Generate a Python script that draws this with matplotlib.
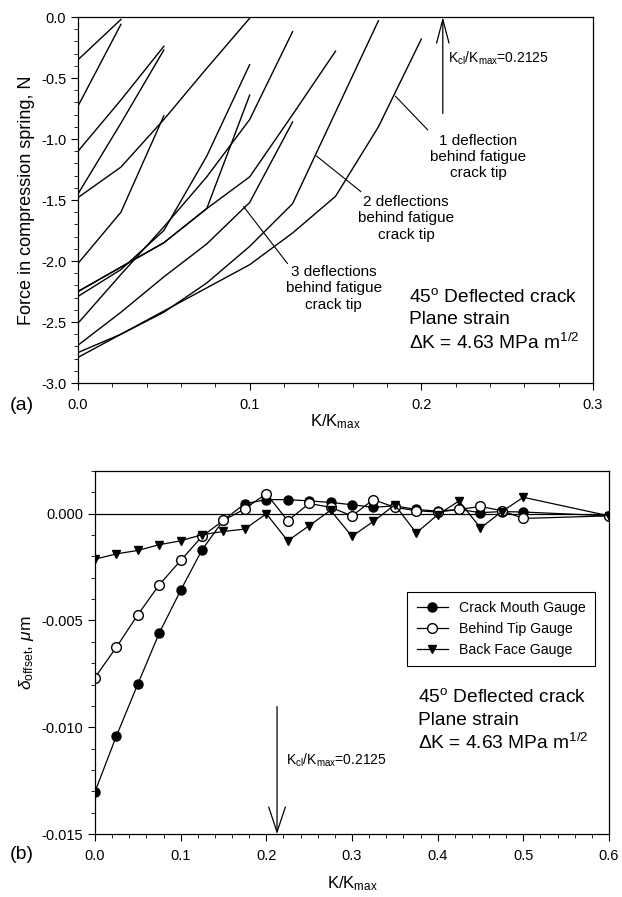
import numpy as np
import matplotlib
matplotlib.use('Agg')
import matplotlib.pyplot as plt
from matplotlib.ticker import MultipleLocator, FormatStrFormatter

plt.rcParams['font.family'] = ['Liberation Sans', 'DejaVu Sans']
plt.rcParams['mathtext.fontset'] = 'custom'
plt.rcParams['mathtext.rm'] = 'Liberation Sans'
plt.rcParams['mathtext.it'] = 'Liberation Sans:italic'
plt.rcParams['mathtext.bf'] = 'Liberation Sans:bold'
plt.rcParams['axes.unicode_minus'] = False

#%% Data

# (a) spring force vs K/Kmax, each curve sampled every 0.025 from K/Kmax = 0
k_steps = [0.0, 0.025, 0.05, 0.075, 0.1, 0.125, 0.15, 0.175, 0.2]
force_a = [-0.35, -0.02]
force_b = [-0.73, -0.06]
force_c = [-1.10, -0.68, -0.24]
force_d = [-1.45, -0.87, -0.27]
force_e = [-2.02, -1.60, -0.81]
force_f = [-1.48, -1.23, -0.84, -0.42, -0.01]
force_g = [-2.29, -2.07, -1.75, -1.14, -0.39]
force_h = [-2.25, -2.05, -1.85, -1.57, -0.64]
force_i = [-2.51, -2.11, -1.72, -1.31, -0.84, -0.12]
force_j = [-2.69, -2.42, -2.13, -1.86, -1.52, -0.86]
force_k = [-2.25, -2.05, -1.85, -1.57, -1.31, -0.80, -0.28]
force_l = [-2.75, -2.60, -2.42, -2.18, -1.88, -1.53, -0.78, -0.03]
force_m = [-2.79, -2.60, -2.41, -2.22, -2.03, -1.77, -1.47, -0.90, -0.18]
spring_forces = [force_a, force_b, force_c, force_d, force_e, force_f, force_g,
                 force_h, force_i, force_j, force_k, force_l, force_m]

# (b) offset displacement vs K/Kmax
k_gauge = [0.0, 0.025, 0.05, 0.075, 0.1, 0.125, 0.15, 0.175, 0.2, 0.225, 0.25,
           0.275, 0.3, 0.325, 0.35, 0.375, 0.4, 0.425, 0.45, 0.475, 0.5, 0.6]
crack_mouth = [-0.01302, -0.01041, -0.00798, -0.00559, -0.00359, -0.00169, -0.00030,
               0.00047, 0.00066, 0.00066, 0.00060, 0.00053, 0.00042, 0.00030, 0.00037,
               0.00020, 0.00012, 0.00020, 0.00005, 0.00010, 0.00008, -0.00010]
behind_tip = [-0.00767, -0.00625, -0.00473, -0.00333, -0.00219, -0.00106, -0.00031,
              0.00023, 0.00094, -0.00033, 0.00048, 0.00030, -0.00010, 0.00066, 0.00030,
              0.00014, 0.00008, 0.00020, 0.00034, 0.00014, -0.00022, -0.00010]
back_face = [-0.00213, -0.00188, -0.00172, -0.00145, -0.00127, -0.00098, -0.00083,
             -0.00072, 0.00000, -0.00127, -0.00056, 0.00016, -0.00106, -0.00036, 0.00042,
             -0.00090, -0.00005, 0.00060, -0.00067, 0.00010, 0.00077, -0.00010]

k_cl = 0.2125
case_lines = ['45$^{\\mathrm{o}}$ Deflected crack', 'Plane strain',
              r'$\Delta$K = 4.63 MPa m$^{\mathrm{1/2}}$']

#%% Figure

fig = plt.figure(figsize=(6.22, 8.97), dpi=100)
ax1 = fig.add_axes([0.1254, 0.573, 0.828, 0.408])
ax2 = fig.add_axes([0.1527, 0.0702, 0.8264, 0.4047])

def style_axis(ax):
    ax.tick_params(which='both', direction='out', top=False, right=False, labelsize=10.5)
    ax.tick_params(which='major', length=5, width=0.8)
    ax.tick_params(which='minor', length=3, width=0.6)
    ax.tick_params(axis='x', which='major', pad=6)
    for s in ax.spines.values():
        s.set_linewidth(0.9)

# Panel (a)
for f in spring_forces:
    ax1.plot(k_steps[:len(f)], f, color='black', lw=1.0)

ax1.set_xlim(0, 0.3)
ax1.set_ylim(-3.0, 0.0)
ax1.xaxis.set_major_locator(MultipleLocator(0.1))
ax1.xaxis.set_minor_locator(MultipleLocator(0.02))
ax1.yaxis.set_major_locator(MultipleLocator(0.5))
ax1.yaxis.set_minor_locator(MultipleLocator(0.1))
ax1.xaxis.set_major_formatter(FormatStrFormatter('%.1f'))
ax1.yaxis.set_major_formatter(FormatStrFormatter('%.1f'))
style_axis(ax1)
ax1.set_xlabel(r'K/K$_{\mathrm{max}}$', fontsize=12, labelpad=0)
ax1.set_ylabel('Force in compression spring, N', fontsize=13, labelpad=4)

ax1.annotate('', xy=(k_cl, 0.0), xytext=(k_cl, -0.79),
             arrowprops=dict(arrowstyle='->,head_length=1.7,head_width=0.45',
                             color='black', lw=0.9, shrinkA=0, shrinkB=0))
ax1.text(k_cl + 0.003, -0.34, r'K$_{\mathrm{cl}}$/K$_{\mathrm{max}}$=0.2125', fontsize=10,
         va='center', ha='left')

# leader lines to the curves
ax1.plot([0.185, 0.2037], [-0.65, -0.925], color='black', lw=0.8)
ax1.text(0.233, -1.145, '1 deflection\nbehind fatigue\ncrack tip', fontsize=11,
         ha='center', va='center')
ax1.plot([0.139, 0.1647], [-1.14, -1.43], color='black', lw=0.8)
ax1.text(0.191, -1.65, '2 deflections\nbehind fatigue\ncrack tip', fontsize=11,
         ha='center', va='center')
ax1.plot([0.0965, 0.122], [-1.555, -2.02], color='black', lw=0.8)
ax1.text(0.149, -2.225, '3 deflections\nbehind fatigue\ncrack tip', fontsize=11,
         ha='center', va='center')

for txt, yb in zip(case_lines, [-2.337, -2.516, -2.72]):
    ax1.text(0.193, yb, txt, fontsize=13.8, ha='left', va='baseline')
fig.text(0.035, 0.548, '(a)', fontsize=14, ha='center', va='center')

# Panel (b)
ax2.axhline(0.0, color='black', lw=0.9)
ax2.plot(k_gauge, crack_mouth, color='black', lw=0.9, marker='o', ms=6.5,
         mfc='black', mec='black', label='Crack Mouth Gauge')
ax2.plot(k_gauge, behind_tip, color='black', lw=0.9, marker='o', ms=7,
         mfc='white', mec='black', label='Behind Tip Gauge')
ax2.plot(k_gauge, back_face, color='black', lw=0.9, marker='v', ms=6,
         mfc='black', mec='black', label='Back Face Gauge')

ax2.set_xlim(0, 0.6)
ax2.set_ylim(-0.015, 0.002)
ax2.xaxis.set_major_locator(MultipleLocator(0.1))
ax2.xaxis.set_minor_locator(MultipleLocator(0.02))
ax2.yaxis.set_major_locator(MultipleLocator(0.005))
ax2.yaxis.set_minor_locator(MultipleLocator(0.001))
ax2.xaxis.set_major_formatter(FormatStrFormatter('%.1f'))
ax2.yaxis.set_major_formatter(FormatStrFormatter('%.3f'))
style_axis(ax2)
ax2.set_xlabel(r'K/K$_{\mathrm{max}}$', fontsize=12, labelpad=8)
ax2.set_ylabel(r'$\delta_{\mathrm{offset}}$, $\mu$m', fontsize=12.5, labelpad=4)

ax2.annotate('', xy=(k_cl, -0.015), xytext=(k_cl, -0.00903),
             arrowprops=dict(arrowstyle='->,head_length=1.8,head_width=0.6',
                             color='black', lw=0.9, shrinkA=0, shrinkB=0))
ax2.text(k_cl + 0.011, -0.01153, r'K$_{\mathrm{cl}}$/K$_{\mathrm{max}}$=0.2125', fontsize=10,
         va='center', ha='left')

ax2.legend(loc='upper right', bbox_to_anchor=(0.973, 0.667), fontsize=10.2,
           frameon=True, fancybox=False, edgecolor='black', framealpha=1,
           handlelength=2.2, borderpad=0.65, labelspacing=0.5, borderaxespad=0)
ax2.get_legend().get_frame().set_linewidth(0.8)

for txt, yb in zip(case_lines, [-0.0088, -0.00989, -0.01102]):
    ax2.text(0.3774, yb, txt, fontsize=13.8, ha='left', va='baseline')
fig.text(0.035, 0.047, '(b)', fontsize=14, ha='center', va='center')

fig.savefig('out.png', dpi=100)
